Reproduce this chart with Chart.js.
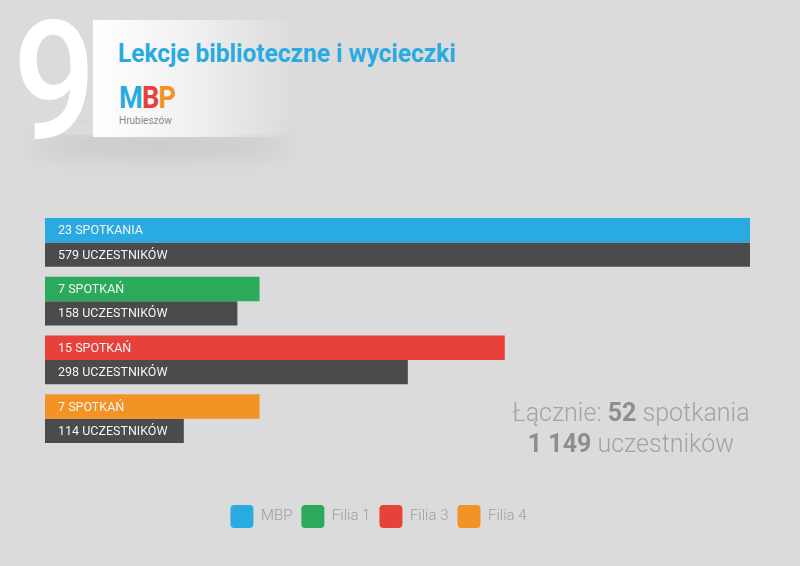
<!DOCTYPE html>
<html lang="pl">
<head>
<meta charset="utf-8">
<title>Lekcje biblioteczne i wycieczki</title>
<script src="https://cdn.jsdelivr.net/npm/chart.js@4.4.0/dist/chart.umd.min.js"></script>
<style>
  html, body { margin: 0; padding: 0; }
  body {
    width: 800px; height: 566px; overflow: hidden;
    background: #dbdbdb; position: relative;
    font-family: Roboto, "Open Sans", sans-serif;
  }
  #chart { position: absolute; left: 0; top: 0; }
  .card-shadow {
    position: absolute; left: 30px; top: 122px; width: 260px; height: 14px;
    border-radius: 50%;
    box-shadow: 0 16px 24px rgba(0,0,0,0.15);
  }
  .card {
    position: absolute; left: 93px; top: 20px; width: 200px; height: 117px;
    background: linear-gradient(to right, #ffffff 0%, #f2f2f2 45%, rgba(219,219,219,0) 100%);
  }
  .big-nine {
    position: absolute; left: 13px; top: -1px;
    font-size: 166px; font-weight: 500; color: #ffffff; line-height: 1;
    transform: scaleX(0.88); transform-origin: left top;
  }
  .title {
    position: absolute; left: 118px; top: 38px;
    font-size: 26px; font-weight: 700; color: #29abe2; white-space: nowrap;
    transform: scaleX(0.94); transform-origin: left top;
  }
  .logo { position: absolute; left: 119px; top: 81px; }
  .logo .mark { font-size: 32px; font-weight: 700; line-height: 1; letter-spacing: -1px;
    transform: scaleX(0.85); transform-origin: left top; display: inline-block; }
  .logo .sub { font-size: 10px; color: #8a8a8a; margin-top: 2px; }
  .totals {
    position: absolute; left: 490px; top: 397px; width: 282px;
    text-align: center; color: #a3a3a3; font-size: 25px; font-weight: 300; line-height: 31px;
  }
  .totals b { color: #8e8e8e; font-weight: 700; }
</style>
</head>
<body>
<div class="card-shadow"></div>
<div class="card"></div>
<div class="big-nine">9</div>
<div class="title">Lekcje biblioteczne i wycieczki</div>
<div class="logo">
  <div class="mark"><span style="color:#29abe2">M</span><span style="color:#e8413a">B</span><span style="color:#f39325">P</span></div>
  <div class="sub">Hrubieszów</div>
</div>
<canvas id="chart" width="800" height="566"></canvas>
<div class="totals" id="totals"></div>

<script>
// chart data
const categories = ["MBP", "Filia 1", "Filia 3", "Filia 4"];
const meetings = [23, 7, 15, 7];
const meetingWords = ["SPOTKANIA", "SPOTKAŃ", "SPOTKAŃ", "SPOTKAŃ"];
const participants = [579, 158, 298, 114];
const participantWord = "UCZESTNIKÓW";
const categoryColors = ["#29abe2", "#2aaa5a", "#e8413a", "#f39325"];
const participantColor = "#4b4b4d";

// group thousands with a space, e.g. 1 149
function fmt(n) {
  return String(n).replace(/\B(?=(\d{3})+(?!\d))/g, " ");
}

const totalMeetings = meetings.reduce((a, b) => a + b, 0);
const totalParticipants = participants.reduce((a, b) => a + b, 0);
document.getElementById("totals").innerHTML =
  "Łącznie: <b>" + fmt(totalMeetings) + "</b> spotkania<br><b>" +
  fmt(totalParticipants) + "</b> uczestników";

// writes the value text inside each bar
const barLabels = {
  id: "barLabels",
  afterDatasetsDraw(chart) {
    const ctx = chart.ctx;
    ctx.save();
    ctx.font = "400 12.5px Roboto";
    ctx.fillStyle = "#f5f5f5";
    ctx.textBaseline = "middle";
    chart.data.datasets.forEach((ds, di) => {
      const meta = chart.getDatasetMeta(di);
      meta.data.forEach((bar, i) => {
        let txt;
        if (di === 0) txt = fmt(meetings[i]) + " " + meetingWords[i];
        else txt = fmt(participants[i]) + " " + participantWord;
        ctx.fillText(txt, bar.base + 13, bar.y + 1);
      });
    });
    ctx.restore();
  }
};

// the legend sits a little left of the plot centre in the original
const legendShift = {
  id: "legendShift",
  afterLayout(chart) {
    chart.legend.left -= 19;
    chart.legend.right -= 19;
  }
};

const ctx = document.getElementById("chart").getContext("2d");
new Chart(ctx, {
  type: "bar",
  data: {
    labels: categories,
    datasets: [
      {
        label: "Spotkania",
        data: meetings,
        backgroundColor: categoryColors,
        xAxisID: "x",
      },
      {
        label: "Uczestnicy",
        data: participants,
        backgroundColor: participantColor,
        xAxisID: "x2",
      },
    ],
  },
  options: {
    indexAxis: "y",
    responsive: false,
    animation: false,
    devicePixelRatio: 1,
    categoryPercentage: 0.83,
    barPercentage: 1.0,
    borderWidth: 0,
    layout: { padding: { top: 213, left: 45, right: 50, bottom: 28 } },
    scales: {
      y: { display: false },
      x: {
        min: 0, max: meetings[0],
        display: true,
        grid: { display: false },
        border: { display: false },
        ticks: { display: false },
        afterFit(scale) { scale.height = 48; },
      },
      x2: { min: 0, max: participants[0], display: false },
    },
    plugins: {
      tooltip: { enabled: false },
      legend: {
        position: "bottom",
        labels: {
          boxWidth: 23,
          boxHeight: 23,
          padding: 9,
          useBorderRadius: true,
          borderRadius: 4,
          color: "#9d9d9d",
          font: { family: "Roboto", size: 15, weight: "300" },
          generateLabels() {
            return categories.map((c, i) => ({
              text: c,
              fillStyle: categoryColors[i],
              strokeStyle: categoryColors[i],
              fontColor: "#9d9d9d",
              lineWidth: 0,
              borderRadius: 4,
              hidden: false,
              index: i,
            }));
          },
        },
      },
    },
  },
  plugins: [barLabels, legendShift],
});
</script>
</body>
</html>
